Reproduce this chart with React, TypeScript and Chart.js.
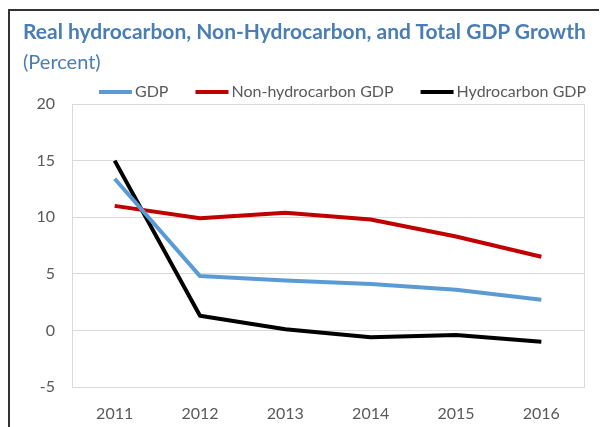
import React, { useEffect, useRef } from "react";
import { Chart, registerables } from "chart.js";

Chart.register(...registerables);

const years = ["2011", "2012", "2013", "2014", "2015", "2016"];
const gdp = [13.4, 4.8, 4.4, 4.1, 3.6, 2.7];
const nonHydrocarbonGdp = [11.0, 9.9, 10.4, 9.8, 8.3, 6.5];
const hydrocarbonGdp = [15.0, 1.3, 0.1, -0.6, -0.4, -1.0];
const seriesNames = ["GDP", "Non-hydrocarbon GDP", "Hydrocarbon GDP"];
const seriesColors = ["#5b9bd5", "#c00000", "#000000"];
const titleText = "Real hydrocarbon, Non-Hydrocarbon, and Total GDP Growth";
const subtitleText = "(Percent)";

const FONT = "Lato, 'Open Sans', sans-serif";

const plotBorder = {
  id: "plotBorder",
  afterDraw(chart: any) {
    const { ctx, chartArea } = chart;
    ctx.save();
    ctx.strokeStyle = "#d9d9d9";
    ctx.lineWidth = 1;
    ctx.strokeRect(
      Math.round(chartArea.left) + 0.5,
      Math.round(chartArea.top) + 0.5,
      Math.round(chartArea.right - chartArea.left),
      Math.round(chartArea.bottom - chartArea.top)
    );
    ctx.restore();
  },
};

// Legend drawn above the plot area, Excel-style (line swatch + label)
const lineLegend = {
  id: "lineLegend",
  afterDraw(chart: any) {
    const { ctx, chartArea } = chart;
    ctx.save();
    ctx.font = `16px ${FONT}`;
    ctx.textBaseline = "middle";
    ctx.textAlign = "left";
    const y = chartArea.top - 12;
    let x = chartArea.left + 27;
    chart.data.datasets.forEach((ds: any) => {
      ctx.fillStyle = ds.borderColor;
      ctx.fillRect(x, y - 2, 33, 4);
      ctx.fillStyle = "#595959";
      ctx.fillText(ds.label, x + 36, y);
      x += 36 + ctx.measureText(ds.label).width + 27;
    });
    ctx.restore();
  },
};

export default function App() {
  const ref = useRef<HTMLCanvasElement>(null);
  useEffect(() => {
    if (!ref.current) return;
    const datasets = [gdp, nonHydrocarbonGdp, hydrocarbonGdp].map((d, i) => ({
      label: seriesNames[i],
      data: d,
      borderColor: seriesColors[i],
      backgroundColor: seriesColors[i],
      borderWidth: 4,
      pointRadius: 0,
      tension: 0,
      borderJoinStyle: "round" as const,
    }));
    const chart = new Chart(ref.current, {
      type: "line",
      data: { labels: years, datasets },
      options: {
        animation: false,
        responsive: false,
        devicePixelRatio: 1,
        layout: { padding: { left: 13, right: 23, top: 93, bottom: 0 } },
        plugins: {
          tooltip: { enabled: false },
          legend: { display: false },
        },
        scales: {
          x: {
            offset: true,
            afterFit: (s: any) => {
              s.height = 40;
            },
            grid: { display: false, drawTicks: false },
            border: { display: false },
            ticks: {
              color: "#595959",
              padding: 17,
              font: { family: FONT, size: 16 },
              maxRotation: 0,
            },
          },
          y: {
            min: -5,
            max: 20,
            afterFit: (s: any) => {
              s.width = 49;
            },
            grid: { color: "#d9d9d9", lineWidth: 1, drawTicks: false },
            border: { display: false },
            ticks: {
              stepSize: 5,
              color: "#595959",
              padding: 17,
              font: { family: FONT, size: 16 },
            },
          },
        },
      },
      plugins: [plotBorder, lineLegend],
    });
    return () => chart.destroy();
  }, []);

  return (
    <div
      style={{
        marginTop: 1,
        borderTop: "2px solid #333",
        borderLeft: "2px solid #333",
        width: 599,
        height: 416,
        boxSizing: "content-box",
      }}
    >
      <div style={{ position: "relative", width: 597, height: 416 }}>
        <canvas ref={ref} width={597} height={416} style={{ display: "block" }} />
        <div
          style={{
            position: "absolute",
            left: 13,
            top: 7,
            fontFamily: FONT,
            fontWeight: 700,
            fontSize: 21,
            lineHeight: "25px",
            color: "#4a7db3",
            whiteSpace: "nowrap",
          }}
        >
          {titleText}
        </div>
        <div
          style={{
            position: "absolute",
            left: 13,
            top: 37.5,
            fontFamily: FONT,
            fontSize: 20,
            lineHeight: "24px",
            color: "#4a7db3",
            whiteSpace: "nowrap",
          }}
        >
          {subtitleText}
        </div>
      </div>
    </div>
  );
}
